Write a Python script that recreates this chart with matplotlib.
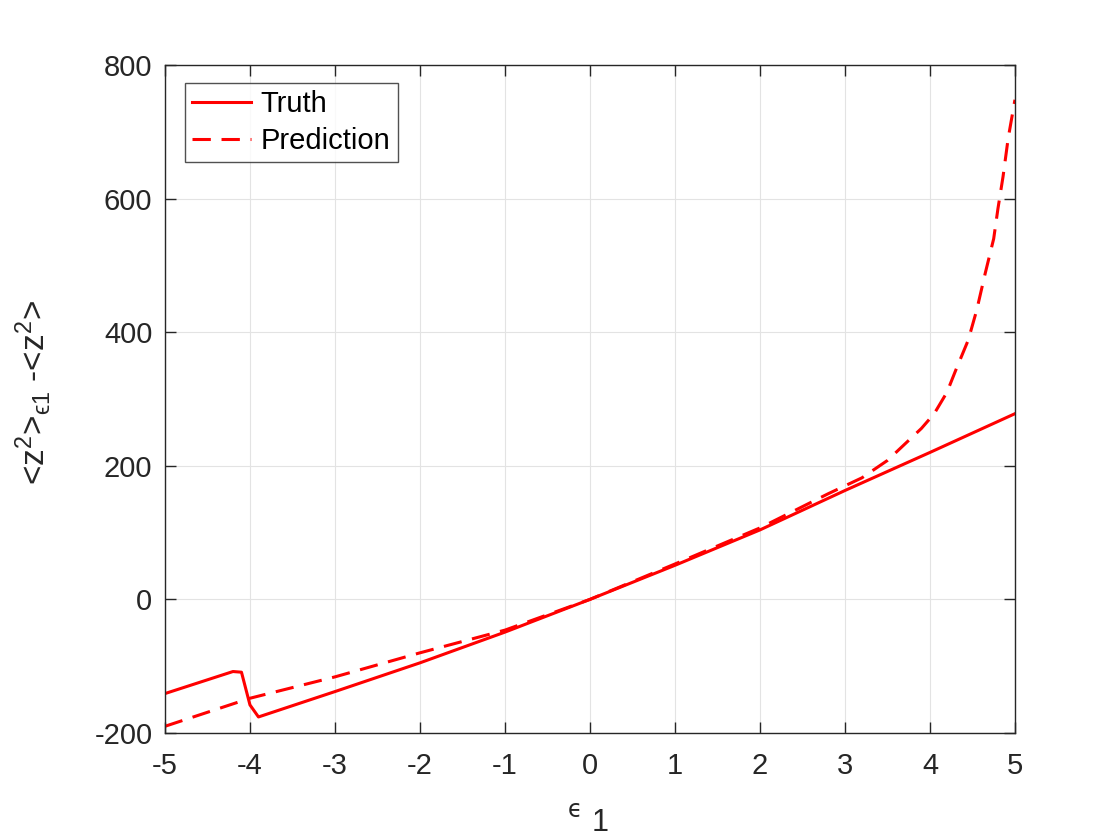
import matplotlib
matplotlib.use("Agg")
import matplotlib.pyplot as plt

plt.rcParams['font.family'] = ['Liberation Sans', 'DejaVu Sans']
plt.rcParams['axes.unicode_minus'] = False
plt.rcParams['mathtext.fontset'] = 'custom'
plt.rcParams['mathtext.rm'] = 'Liberation Sans'
plt.rcParams['mathtext.it'] = 'Liberation Sans'
plt.rcParams['mathtext.fallback'] = 'stixsans'

# values
truth_x = [-5, -4.2, -4.1, -4.0, -3.9, -3, -2, -1, 0, 1, 2, 3, 4, 5]
truth_y = [-141, -108, -109, -158, -176, -138, -95, -49, 0, 51, 104, 163, 220, 278]

pred_x = [-5, -4, -3, -2, -1, 0, 1, 2, 2.8, 3.2, 3.5, 3.7, 3.9, 4.05, 4.2, 4.3,
          4.45, 4.55, 4.65, 4.75, 4.8, 4.86, 4.92, 5]
pred_y = [-190, -148, -116, -80, -46, 0, 53, 107, 158, 182, 208, 232, 256, 278, 310, 342,
          388, 433, 488, 540, 585, 633, 690, 748]

xticks = list(range(-5, 6))
yticks = [-200, 0, 200, 400, 600, 800]

dark = '#262626'
fig = plt.figure(figsize=(11.2, 8.4), dpi=100)
ax = fig.add_axes([0.1473, 0.1274, 0.7589, 0.7952])

ax.plot(truth_x, truth_y, color='red', lw=2.2, label='Truth')
ax.plot(pred_x, pred_y, color='red', lw=2.2, ls=(0, (6, 3.5)), label='Prediction')

ax.set_xlim(-5, 5)
ax.set_ylim(-200, 800)
ax.set_xticks(xticks)
ax.set_yticks(yticks)
ax.grid(True, color='#e3e3e3', lw=0.8)
ax.tick_params(direction='in', length=8, width=1, colors=dark, labelsize=21,
               top=True, right=True, pad=9)
ax.tick_params(axis='x', pad=14)
for s in ax.spines.values():
    s.set_color(dark)
    s.set_linewidth(1)

leg = ax.legend(loc='upper left', bbox_to_anchor=(0.0235, 0.973), fontsize=21,
                frameon=True, fancybox=False, handlelength=2.0, borderpad=0.25,
                labelspacing=0.3, handletextpad=0.35, borderaxespad=0)
leg.get_frame().set_edgecolor(dark)
leg.get_frame().set_linewidth(1)

# x label: small epsilon followed by a large "1"
fig.text(0.513, 0.022, '\u03f5', fontsize=17, color=dark, ha='center', va='bottom',
         family='DejaVu Sans')
fig.text(0.536, 0.002, '1', fontsize=22, color=dark, ha='center', va='bottom')

ax.set_ylabel('<z$^2$>$_{\u03f5 1}$ -<z$^2$>', fontsize=24, color=dark)
ax.yaxis.set_label_coords(-0.132, 0.51)

fig.savefig('out.png', dpi=100)
